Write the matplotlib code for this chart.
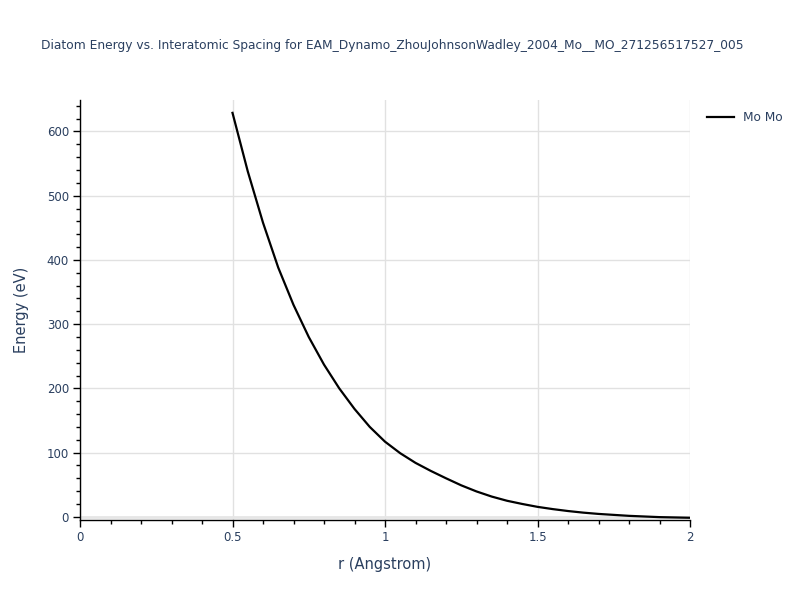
import matplotlib
matplotlib.use("Agg")
import matplotlib.pyplot as plt
from matplotlib.ticker import MultipleLocator

# Diatom energy curve
r_vals = [0.50, 0.55, 0.60, 0.65, 0.70, 0.75, 0.80, 0.85, 0.90, 0.95,
          1.00, 1.05, 1.10, 1.15, 1.20, 1.25, 1.30, 1.35, 1.40, 1.45,
          1.50, 1.55, 1.60, 1.65, 1.70, 1.75, 1.80, 1.85, 1.90, 1.95, 2.00]
energy = [629, 538, 458, 388, 330, 280, 237, 200, 168, 140,
          117, 99, 84, 71.5, 60, 49, 39.5, 31.5, 25, 20,
          15.5, 12, 9, 6.5, 4.5, 3, 1.5, 0.5, -0.5, -1, -1.5]
series_name = "Mo Mo"
title = "Diatom Energy vs. Interatomic Spacing for EAM_Dynamo_ZhouJohnsonWadley_2004_Mo__MO_271256517527_005"

text_col = "#2a3f5f"
grid_col = "#e1e1e1"

plt.rcParams['font.family'] = ['DejaVu Sans']

fig = plt.figure(figsize=(8, 6), dpi=100)
ax = fig.add_axes([0.1, 0.1333, 0.7625, 0.7])

ax.plot(r_vals, energy, color="black", lw=1.6, label=series_name)

ax.set_xlim(0, 2)
ax.set_ylim(-5, 649)

ax.xaxis.set_major_locator(MultipleLocator(0.5))
ax.xaxis.set_minor_locator(MultipleLocator(0.1))
ax.yaxis.set_major_locator(MultipleLocator(100))
ax.yaxis.set_minor_locator(MultipleLocator(20))
ax.xaxis.set_major_formatter(plt.FuncFormatter(lambda v, p: f"{v:g}"))

ax.grid(True, which="major", color=grid_col, lw=1)
ax.axhline(0, color="#e6e6e6", lw=2, zorder=1)
ax.set_axisbelow(True)

for s in ["top", "right"]:
    ax.spines[s].set_visible(False)
for s in ["left", "bottom"]:
    ax.spines[s].set_color("black")
    ax.spines[s].set_linewidth(1)

ax.tick_params(which="major", direction="out", length=5, width=1, color="black",
               labelcolor=text_col, labelsize=8.5, pad=3)
ax.tick_params(which="minor", direction="out", length=3, width=1, color="black")

ax.set_xlabel("r (Angstrom)", color=text_col, fontsize=10.5, labelpad=9)
ax.set_ylabel("Energy (eV)", color=text_col, fontsize=10.5, labelpad=13)

fig.text(0.49, 0.925, title, ha="center", va="center", color=text_col, fontsize=8.8)

leg = ax.legend(loc="upper left", bbox_to_anchor=(1.01, 1.0), frameon=False,
                fontsize=8.7, handlelength=2.2, labelcolor=text_col)

fig.savefig("out.png", dpi=100, facecolor="white")
